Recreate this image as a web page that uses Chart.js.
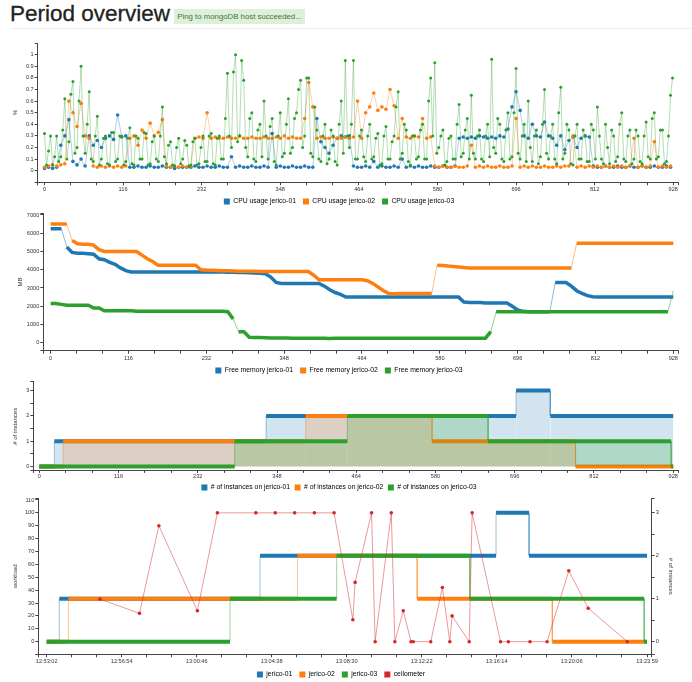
<!DOCTYPE html>
<html>
<head>
<meta charset="utf-8">
<title>Period overview</title>
<script src="https://cdn.jsdelivr.net/npm/chart.js@4.4.1/dist/chart.umd.min.js"></script>
<style>
  html, body { margin: 0; padding: 0; background: #fff; width: 692px; height: 682px; overflow: hidden;
    font-family: "Liberation Sans", Arial, sans-serif; }
  #title { position: absolute; left: 10px; top: 0; font-size: 22.5px; line-height: 28px; color: #222;
    -webkit-text-stroke: 0.3px #222; white-space: nowrap; }
  #badge { position: absolute; left: 174px; top: 9px; width: 131px; height: 15px; line-height: 15px;
    background: #dff0d8; color: #3c763d; font-size: 7.8px; text-align: center; white-space: nowrap; }
  #rule { position: absolute; left: 10px; right: 0; top: 28px; height: 1px; background: #eee; }
  canvas { position: absolute; left: 0; }
</style>
</head>
<body>
<div id="title">Period overview</div>
<div id="badge">Ping to mongoDB host succeeded...</div>
<div id="rule"></div>
<canvas id="cpu" width="692" height="180" style="top:35px"></canvas>
<canvas id="mem" width="692" height="179" style="top:205px"></canvas>
<canvas id="inst" width="692" height="127" style="top:374px"></canvas>
<canvas id="load" width="692" height="198" style="top:490px"></canvas>
<script>
// ---- CPU usage (fraction); jerico-01/02 sampled every 6 ticks, jerico-03 every 3
const cpuStep = 6;
const cpuStep03 = 3;
const cpuJerico01 = [
  0.02, 0.03, 0.02, 0.03, 0.22,  0.3, 0.44, 0.08, 0.05, 0.1,  0.04, 0.3, 0.22, 0.26, 0.2,
  0.28, 0.3, 0.27, 0.48, 0.29,  0.3, 0.03, 0.03, 0.04, 0.03,  0.03, 0.04, 0.03, 0.03, 0.04,
  0.03, 0.03, 0.02, 0.03, 0.03,  0.03, 0.03, 0.04, 0.03, 0.03,  0.04, 0.03, 0.03, 0.04, 0.03,
  0.03, 0.12, 0.03, 0.04, 0.03,  0.03, 0.04, 0.03, 0.03, 0.04,  0.03, 0.32, 0.03, 0.04, 0.03,
  0.03, 0.04, 0.03, 0.03, 0.04,  0.03, 0.03, 0.45, 0.25, 0.2,  0.15, 0.22, 0.28, 0.3, 0.29,
  0.3, 0.04, 0.03, 0.03, 0.04,  0.03, 0.08, 0.03, 0.04, 0.03,  0.03, 0.04, 0.03, 0.1, 0.03,
  0.04, 0.03, 0.04, 0.03, 0.03,  0.04, 0.03, 0.03, 0.04, 0.03,  0.03, 0.04, 0.28, 0.29, 0.28,
  0.29, 0.28, 0.3, 0.29, 0.28,  0.29, 0.28, 0.3, 0.29, 0.36,  0.55, 0.68, 0.52, 0.3, 0.28,
  0.4, 0.3, 0.29, 0.42, 0.3,  0.28, 0.22, 0.3, 0.18, 0.26,  0.29, 0.2, 0.28, 0.3, 0.29,
  0.04, 0.03, 0.03, 0.04, 0.03,  0.03, 0.04, 0.03, 0.03, 0.04,  0.03, 0.03, 0.04, 0.03, 0.03,
  0.04, 0.03, 0.03, 0.04, 0.03
];
const cpuJerico02 = [
  0.03, 0.04, 0.05, 0.04, 0.05,  0.06, 0.6, 0.5, 0.38, 0.58,  0.3, 0.28, 0.04, 0.03, 0.04,
  0.03, 0.04, 0.03, 0.04, 0.03,  0.04, 0.28, 0.3, 0.22, 0.35,  0.28, 0.41, 0.3, 0.33, 0.44,
  0.04, 0.03, 0.04, 0.03, 0.04,  0.03, 0.04, 0.28, 0.29, 0.28,  0.5, 0.28, 0.29, 0.28, 0.28,
  0.29, 0.28, 0.28, 0.3, 0.28,  0.28, 0.29, 0.28, 0.28, 0.29,  0.28, 0.28, 0.29, 0.28, 0.3,
  0.28, 0.29, 0.28, 0.28, 0.45,  0.76, 0.55, 0.28, 0.29, 0.28,  0.28, 0.29, 0.28, 0.28, 0.29,
  0.28, 0.29, 0.6, 0.28, 0.5,  0.55, 0.67, 0.52, 0.55, 0.53,  0.7, 0.56, 0.28, 0.45, 0.29,
  0.28, 0.3, 0.29, 0.45, 0.28,  0.29, 0.04, 0.03, 0.04, 0.03,  0.03, 0.04, 0.03, 0.03, 0.04,
  0.22, 0.03, 0.04, 0.03, 0.04,  0.03, 0.03, 0.04, 0.03, 0.03,  0.04, 0.45, 0.03, 0.04, 0.03,
  0.04, 0.03, 0.03, 0.04, 0.03,  0.03, 0.04, 0.03, 0.04, 0.04,  0.3, 0.03, 0.04, 0.03, 0.04,
  0.03, 0.04, 0.03, 0.04, 0.03,  0.04, 0.03, 0.04, 0.03, 0.04,  0.28, 0.03, 0.04, 0.03, 0.04,
  0.25, 0.03, 0.04, 0.03, 0.04
];
const cpuJerico03 = [
  0.32, 0.05, 0.17, 0.3, 0.05, 0.12, 0.3, 0.08, 0.12, 0.35,
  0.62, 0.1, 0.25, 0.66, 0.77, 0.15, 0.2, 0.6, 0.9, 0.3,
  0.15, 0.4, 0.68, 0.1, 0.08, 0.3, 0.47, 0.05, 0.1, 0.28,
  0.3, 0.06, 0.05, 0.33, 0.33, 0.08, 0.1, 0.3, 0.3, 0.05,
  0.08, 0.28, 0.37, 0.06, 0.05, 0.3, 0.28, 0.1, 0.1, 0.33,
  0.32, 0.05, 0.06, 0.25, 0.3, 0.1, 0.08, 0.3, 0.55, 0.12,
  0.06, 0.22, 0.25, 0.05, 0.04, 0.2, 0.28, 0.06, 0.1, 0.26,
  0.22, 0.04, 0.05, 0.25, 0.28, 0.05, 0.06, 0.2, 0.3, 0.08,
  0.08, 0.3, 0.32, 0.06, 0.05, 0.28, 0.3, 0.1, 0.1, 0.45,
  0.84, 0.3, 0.2, 0.85, 1.0, 0.25, 0.3, 0.95, 0.78, 0.2,
  0.12, 0.45, 0.5, 0.1, 0.08, 0.35, 0.4, 0.12, 0.6, 0.3,
  0.1, 0.38, 0.45, 0.08, 0.05, 0.3, 0.5, 0.12, 0.15, 0.4,
  0.62, 0.15, 0.2, 0.45, 0.5, 0.7, 0.78, 0.2, 0.3, 0.8,
  0.8, 0.15, 0.12, 0.55, 0.35, 0.1, 0.08, 0.3, 0.4, 0.06,
  0.1, 0.35, 0.3, 0.08, 0.05, 0.4, 0.6, 0.15, 0.95, 0.3,
  0.2, 0.4, 0.95, 0.1, 0.1, 0.3, 0.35, 0.12, 0.08, 0.3,
  0.4, 0.1, 0.12, 0.28, 0.32, 0.05, 0.06, 0.3, 0.38, 0.1,
  0.1, 0.25, 0.3, 0.55, 0.68, 0.1, 0.15, 0.4, 0.35, 0.08,
  0.05, 0.3, 0.3, 0.1, 0.12, 0.35, 0.4, 0.1, 0.1, 0.6,
  0.8, 0.3, 0.93, 0.15, 0.2, 0.3, 0.35, 0.05, 0.08, 0.28,
  0.3, 0.1, 0.1, 0.4, 0.57, 0.12, 0.15, 0.35, 0.45, 0.1,
  0.65, 0.15, 0.1, 0.3, 0.35, 0.1, 0.08, 0.3, 0.4, 0.12,
  0.96, 0.2, 0.15, 0.45, 0.4, 0.1, 0.08, 0.35, 0.5, 0.1,
  0.12, 0.5, 0.88, 0.15, 0.1, 0.3, 0.4, 0.08, 0.6, 0.2,
  0.08, 0.3, 0.35, 0.06, 0.12, 0.4, 0.7, 0.15, 0.1, 0.3,
  0.4, 0.1, 0.06, 0.5, 0.72, 0.1, 0.15, 0.4, 0.35, 0.06,
  0.05, 0.3, 0.4, 0.1, 0.1, 0.35, 0.3, 0.08, 0.08, 0.4,
  0.35, 0.1, 0.55, 0.3, 0.1, 0.06, 0.4, 0.2, 0.06, 0.35,
  0.3, 0.08, 0.12, 0.4, 0.5, 0.1, 0.08, 0.3, 0.35, 0.06,
  0.1, 0.35, 0.3, 0.08, 0.06, 0.3, 0.42, 0.12, 0.1, 0.45,
  0.5, 0.1, 0.12, 0.35, 0.35, 0.06, 0.08, 0.3, 0.65, 0.8
];
const cpuXTicks = [0, 116, 232, 348, 464, 580, 696, 812, 928];
const cpuYTicks = [0, 0.1, 0.2, 0.3, 0.4, 0.5, 0.6, 0.7, 0.8, 0.9, 1];

// ---- Free memory (MB), one sample every 8 ticks
const memStep = 8;
const memJerico01 = [
  6250, 6250, 6250, 5250, 4950,  4900, 4900, 4880, 4850, 4600,  4550, 4400, 4300, 4100, 3950,
  3880, 3870, 3880, 3880, 3880,  3880, 3880, 3880, 3880, 3880,  3880, 3880, 3880, 3880, 3880,
  3880, 3880, 3870, 3860, 3860,  3850, 3850, 3830, 3820, 3800,  3780, 3600, 3300, 3250, 3250,
  3250, 3250, 3250, 3250, 3250,  3250, 3100, 2900, 2750, 2650,  2500, 2500, 2500, 2500, 2500,
  2500, 2500, 2500, 2500, 2500,  2500, 2500, 2500, 2500, 2500,  2500, 2500, 2500, 2500, 2500,
  2500, 2500, 2230, 2200, 2200,  2200, 2180, 2180, 2170, 2170,  2170, 2000, 1800, 1720, 1700,
  1700, 1700, 1700, 1700, 3300,  3300, 3300, 3100, 2850, 2700,  2580, 2520, 2500, 2500, 2500,
  2500, 2500, 2500, 2500, 2500,  2500, 2500, 2500, 2500, 2500,  2500, 2500
];
const memJerico02 = [
  6500, 6500, 6500, 6500, 5600,  5420, 5400, 5400, 5350, 5100,  5000, 5000, 5000, 5000, 5000,
  5000, 5000, 4800, 4600, 4450,  4250, 4250, 4250, 4250, 4250,  4250, 4250, 4250, 4000, 3980,
  3970, 3960, 3950, 3940, 3930,  3920, 3920, 3910, 3910, 3900,  3900, 3900, 3900, 3900, 3900,
  3900, 3900, 3900, 3900, 3700,  3450, 3450, 3450, 3450, 3450,  3450, 3450, 3450, 3450, 3400,
  3250, 3050, 2850, 2700, 2680,  2700, 2700, 2700, 2700, 2700,  2700, 2700, 4250, 4230, 4200,
  4180, 4150, 4120, 4100, 4100,  4100, 4100, 4100, 4100, 4100,  4100, 4100, 4100, 4100, 4100,
  4100, 4100, 4100, 4100, 4100,  4100, 4100, 4100, 5450, 5450,  5450, 5450, 5450, 5450, 5450,
  5450, 5450, 5450, 5450, 5450,  5450, 5450, 5450, 5450, 5450,  5450, 5450
];
const memJerico03 = [
  2150, 2150, 2100, 2050, 2050,  2050, 2050, 2050, 1900, 1900,  1750, 1750, 1750, 1750, 1750,
  1750, 1720, 1720, 1720, 1720,  1720, 1720, 1720, 1720, 1720,  1720, 1720, 1720, 1720, 1720,
  1720, 1720, 1720, 1700, 1300,  600, 600, 300, 280, 280,  270, 260, 260, 260, 260,
  250, 250, 250, 250, 250,  240, 240, 230, 240, 250,  250, 250, 250, 250, 250,
  250, 250, 250, 250, 250,  250, 250, 250, 250, 250,  250, 250, 250, 250, 250,
  250, 250, 250, 250, 250,  250, 250, 600, 1700, 1700,  1700, 1700, 1700, 1700, 1700,
  1700, 1700, 1700, 1700, 1700,  1700, 1700, 1700, 1700, 1700,  1700, 1700, 1700, 1700, 1700,
  1700, 1700, 1700, 1700, 1700,  1700, 1700, 1700, 1700, 1700,  1700, 2850
];
const memYTicks = [0, 1000, 2000, 3000, 4000, 5000, 6000, 7000];

// ---- # of instances per host: tick where the count changes, and the new count
const instAt01 = [0, 22, 332, 698, 748, 928];
const instN01  = [0, 1, 2, 3, 2, 2];
const instAt02 = [0, 35, 390, 575, 785, 928];
const instN02  = [0, 1, 2, 1, 0, 0];
const instAt03 = [0, 286, 451, 657, 925, 928];
const instN03  = [0, 1, 2, 1, 0, 0];
const instYTicks = [0, 1, 2, 3];

// ---- workload vs instances, seconds after 12:53:02
const loadTimeLabels = ['12:53:02', '12:56:54', '13:00:46', '13:04:38', '13:08:30',
  '13:12:22', '13:16:14', '13:20:06', '13:23:59'];
const loadTimeSecs = [0, 232, 464, 696, 928, 1160, 1392, 1624, 1857];
const hostAt01 = [0, 39, 660, 1390, 1492, 1857];
const hostN01  = [0, 1, 2, 3, 2, 2];
const hostAt02 = [0, 67, 776, 1146, 1564, 1857];
const hostN02  = [0, 1, 2, 1, 0, 0];
const hostAt03 = [0, 567, 897, 1309, 1848, 1857];
const hostN03  = [0, 1, 2, 1, 0, 0];
const ceiloAt = [165, 287, 347, 466, 528, 647, 707, 767, 828, 889, 947, 954, 1005, 1016, 1066, 1077,
  1103, 1127, 1134, 1188, 1224, 1247, 1254, 1307, 1316, 1404, 1428, 1495, 1548, 1615, 1675, 1796];
const ceiloLoad = [33, 22, 90, 24, 100, 100, 100, 100, 100, 100, 17, 46, 100, 0, 100, 0,
  24, 0, 0, 0, 42, 0, 20, 0, 100, 0, 0, 0, 0, 55, 26, 0];
const loadYTicks = [0, 10, 20, 30, 40, 50, 60, 70, 80, 90, 100, 110];

const FONT = '"Liberation Sans", Arial, sans-serif';
const AXIS = '#444';
const BLUE = '#1f77b4', ORANGE = '#ff7f0e', GREEN = '#2ca02c', RED = '#d62728';

function rgba(hex, a) {
  const n = parseInt(hex.slice(1), 16);
  return `rgba(${n >> 16}, ${(n >> 8) & 255}, ${n & 255}, ${a})`;
}

function withMinor(majors, parts) {
  const out = [];
  majors.forEach((v, i) => {
    out.push(v);
    if (i < majors.length - 1) {
      for (let k = 1; k < parts; k++) out.push(v + (majors[i + 1] - v) * k / parts);
    }
  });
  return out;
}

// d3-like axis: outer ticks at the domain ends, small tick marks, no grid
function makeAxis(o) {
  const labelOf = new Map(o.majors.map((v, i) => [v, o.labels[i]]));
  const values = [o.min].concat(withMinor(o.majors, o.parts || 1), [o.max]);
  return {
    type: 'linear', position: o.position, min: o.min, max: o.max,
    afterBuildTicks: s => { s.ticks = values.map(v => ({ value: v })); },
    afterFit: s => { if (o.horizontal) s.height = o.fit; else s.width = o.fit; },
    border: { display: true, color: AXIS, width: 1 },
    grid: { drawOnChartArea: false, drawTicks: true, tickLength: o.tickLength || 3, color: AXIS, lineWidth: 1 },
    ticks: {
      autoSkip: false, maxRotation: 0, padding: o.tickPad === undefined ? 1 : o.tickPad, color: '#333',
      font: { size: 5.6, family: FONT },
      callback: v => (labelOf.has(v) ? labelOf.get(v) : '')
    },
    title: o.title
      ? { display: true, text: o.title, color: '#333', font: { size: 6, family: FONT },
          padding: { top: o.titlePad, bottom: 0 } }
      : { display: false }
  };
}

function legend(colors, gap) {
  return {
    position: 'bottom',
    labels: {
      boxWidth: 6, boxHeight: 6, padding: gap || 7, color: '#333', font: { size: 6.8, family: FONT },
      generateLabels: chart => chart.data.datasets.map((d, i) => ({
        text: d.label, fillStyle: colors[i], strokeStyle: colors[i], lineWidth: 0,
        hidden: false, datasetIndex: i
      }))
    }
  };
}

function stepPoints(at, n) {
  const pts = [];
  at.forEach((x, i) => {
    if (i > 0) pts.push({ x: x, y: n[i - 1] });
    pts.push({ x: x, y: n[i] });
  });
  return pts;
}

const vertical = c => c.p0.parsed.x === c.p1.parsed.x;

function stepSet(label, color, pts, order, extra) {
  return Object.assign({
    label: label, data: pts, order: order, pointRadius: 0, borderColor: color, borderWidth: 4,
    borderCapStyle: 'butt',
    segment: {
      borderWidth: c => (vertical(c) ? 1 : 4),
      borderColor: c => (vertical(c) ? rgba(color, 0.45) : color)
    }
  }, extra || {});
}

const base = {
  responsive: false, animation: false, events: [],
  plugins: { tooltip: { enabled: false } }
};

// ---------- chart 1: CPU usage
new Chart(document.getElementById('cpu'), {
  type: 'line',
  data: {
    datasets: [
      ['CPU usage jerico-01', BLUE, cpuJerico01, cpuStep, 2, 1.8],
      ['CPU usage jerico-02', ORANGE, cpuJerico02, cpuStep, 1, 1.8],
      ['CPU usage jerico-03', GREEN, cpuJerico03, cpuStep03, 0, 1.5]
    ].map(([label, color, vals, step, order, r]) => ({
      label: label, order: order,
      data: vals.map((v, i) => ({ x: i * step, y: v })),
      borderColor: rgba(color, 0.45), borderWidth: 0.8,
      pointRadius: r, pointBorderWidth: 0, pointBackgroundColor: color
    }))
  },
  options: Object.assign({}, base, {
    layout: { padding: { top: 8.1, left: 0, right: 14, bottom: 0 } },
    scales: {
      x: makeAxis({ min: -10, max: 935, majors: cpuXTicks, labels: cpuXTicks.map(String), parts: 3,
        horizontal: true, fit: 8.9, position: 'bottom' }),
      y: makeAxis({ min: -0.1, max: 1.1, majors: cpuYTicks, labels: cpuYTicks.map(String),
        fit: 37.7, position: 'left', title: '%', titlePad: 11.4 })
    },
    plugins: Object.assign({}, base.plugins, { legend: legend([BLUE, ORANGE, GREEN]) })
  })
});

// ---------- chart 2: free memory
new Chart(document.getElementById('mem'), {
  type: 'line',
  data: {
    datasets: [
      ['Free memory jerico-01', BLUE, memJerico01, 2],
      ['Free memory jerico-02', ORANGE, memJerico02, 1],
      ['Free memory jerico-03', GREEN, memJerico03, 0]
    ].map(([label, color, vals, order]) => ({
      label: label, order: order,
      data: vals.map((v, i) => ({ x: i * memStep, y: v })),
      borderColor: color, borderWidth: 3.5, pointRadius: 0,
      segment: {
        borderWidth: c => (Math.abs(c.p1.parsed.y - c.p0.parsed.y) > 600 ? 1 : 3.5),
        borderColor: c => (Math.abs(c.p1.parsed.y - c.p0.parsed.y) > 600 ? rgba(color, 0.5) : color)
      }
    }))
  },
  options: Object.assign({}, base, {
    layout: { padding: { top: 8.3, left: 0, right: 14, bottom: 0 } },
    scales: {
      x: makeAxis({ min: -11, max: 935, majors: cpuXTicks, labels: cpuXTicks.map(String), parts: 3,
        horizontal: true, fit: 9.5, position: 'bottom' }),
      y: makeAxis({ min: -439, max: 7093, majors: memYTicks, labels: memYTicks.map(String),
        fit: 43.3, position: 'left', title: 'MB', titlePad: 16.4 })
    },
    plugins: Object.assign({}, base.plugins, { legend: legend([BLUE, ORANGE, GREEN]) })
  })
});

// ---------- chart 3: number of instances per host (stepped areas)
new Chart(document.getElementById('inst'), {
  type: 'line',
  data: {
    datasets: [
      stepSet('# of instances on jerico-01', BLUE, stepPoints(instAt01, instN01), 2,
        { fill: 'origin', backgroundColor: rgba(BLUE, 0.2) }),
      stepSet('# of instances on jerico-02', ORANGE, stepPoints(instAt02, instN02), 1,
        { fill: 'origin', backgroundColor: rgba(ORANGE, 0.2) }),
      stepSet('# of instances on jerico-03', GREEN, stepPoints(instAt03, instN03), 0,
        { fill: 'origin', backgroundColor: rgba(GREEN, 0.2) })
    ]
  },
  options: Object.assign({}, base, {
    layout: { padding: { top: 7.7, left: 0, right: 14, bottom: 0 } },
    scales: {
      x: makeAxis({ min: -8.8, max: 935, majors: cpuXTicks, labels: cpuXTicks.map(String), parts: 3,
        horizontal: true, fit: 8.8, tickLength: 2, tickPad: 0, position: 'bottom' }),
      y: makeAxis({ min: -0.17, max: 3.35, majors: instYTicks, labels: instYTicks.map(String), parts: 2,
        fit: 33.3, position: 'left', title: '# of instances', titlePad: 12.1 })
    },
    plugins: Object.assign({}, base.plugins, { legend: legend([BLUE, ORANGE, GREEN], 4.5) })
  })
});

// ---------- chart 4: workload and instances over time
new Chart(document.getElementById('load'), {
  type: 'line',
  data: {
    datasets: [
      stepSet('jerico-01', BLUE, stepPoints(hostAt01, hostN01), 3, { yAxisID: 'y1' }),
      stepSet('jerico-02', ORANGE, stepPoints(hostAt02, hostN02), 2, { yAxisID: 'y1' }),
      stepSet('jerico-03', GREEN, stepPoints(hostAt03, hostN03), 1, { yAxisID: 'y1' }),
      {
        label: 'ceilometer', order: 0, yAxisID: 'y',
        data: ceiloAt.map((t, i) => ({ x: t, y: ceiloLoad[i] })),
        borderColor: rgba(RED, 0.6), borderWidth: 0.8,
        pointRadius: 1.8, pointBorderWidth: 0, pointBackgroundColor: RED
      }
    ]
  },
  options: Object.assign({}, base, {
    layout: { padding: { top: 8.3, left: 0, right: 10, bottom: 0 } },
    scales: {
      x: makeAxis({ min: -26, max: 1871.5, majors: loadTimeSecs, labels: loadTimeLabels, parts: 3,
        horizontal: true, fit: 9.9, position: 'bottom' }),
      y: makeAxis({ min: -9.8, max: 111.3, majors: loadYTicks, labels: loadYTicks.map(String),
        fit: 38.3, position: 'left', title: 'workload', titlePad: 11.4 }),
      y1: makeAxis({ min: -9.8 * 3 / 100, max: 111.3 * 3 / 100, majors: instYTicks,
        labels: instYTicks.map(String), parts: 2, fit: 30.3, position: 'right',
        title: '# of instances', titlePad: 7.4 })
    },
    plugins: Object.assign({}, base.plugins, { legend: legend([BLUE, ORANGE, GREEN, RED]) })
  })
});
</script>
</body>
</html>
